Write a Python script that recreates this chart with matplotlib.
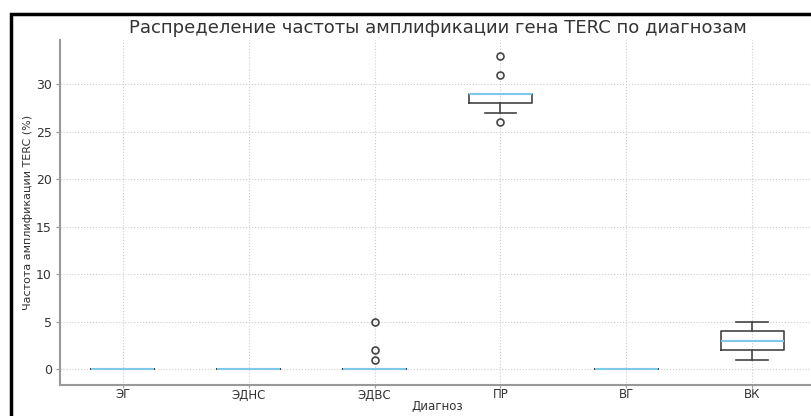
import matplotlib.pyplot as plt
from matplotlib.patches import Rectangle

# Частота амплификации TERC (%) по группам диагнозов
diagnoses = ["ЭГ", "ЭДНС", "ЭДВС", "ПР", "ВГ", "ВК"]
eg = [0, 0, 0, 0, 0, 0, 0, 0, 0, 0]
edns = [0, 0, 0, 0, 0, 0, 0, 0, 0, 0]
edvs = [0, 0, 0, 0, 0, 0, 0, 0, 0, 0, 1, 2, 5]
pr = [26, 27, 28, 28, 29, 29, 29, 29, 31, 33]
vg = [0, 0, 0, 0, 0, 0, 0, 0, 0, 0]
vk = [1, 2, 3, 4, 5]

data = [eg, edns, edvs, pr, vg, vk]

plt.rcParams["font.family"] = ["DejaVu Sans"]

fig = plt.figure(figsize=(8.12, 4.16), dpi=100)
ax = fig.add_axes([60 / 812, 31 / 416, 755 / 812, 345 / 416])

box_col = "#444444"
ax.boxplot(
    data,
    tick_labels=diagnoses,
    boxprops=dict(color=box_col, linewidth=1.2),
    whiskerprops=dict(color=box_col, linewidth=1.2),
    capprops=dict(color=box_col, linewidth=1.2),
    medianprops=dict(color="#7ec8ec", linewidth=1.5),
    flierprops=dict(marker="o", markerfacecolor="none", markeredgecolor=box_col,
                    markersize=5, markeredgewidth=1.2),
)

ax.set_yticks(range(0, 31, 5))
ax.grid(True, linestyle=":", color="#cccccc", linewidth=0.8)
ax.set_axisbelow(True)
for side in ("top", "right"):
    ax.spines[side].set_visible(False)
for side in ("left", "bottom"):
    ax.spines[side].set_color("#999999")
    ax.spines[side].set_linewidth(1.5)
ax.tick_params(axis="x", colors="#999999", labelcolor="#333333", labelsize=8.5,
               length=2, pad=0.5)
ax.tick_params(axis="y", colors="#999999", labelcolor="#333333", labelsize=9,
               length=3, pad=3)

ax.set_title("Распределение частоты амплификации гена TERC по диагнозам",
             fontsize=13, color="#333333", pad=5)
ax.set_xlabel("Диагноз", fontsize=8.5, color="#333333", labelpad=-1)
ax.set_ylabel("Частота амплификации TERC (%)", fontsize=8, color="#333333", labelpad=2)

# черная рамка вокруг изображения
fig.patches.append(Rectangle((11 / 812, -0.1), 1.2, (416 - 14) / 416 + 0.1,
                             transform=fig.transFigure, fill=False,
                             edgecolor="black", linewidth=2.5, clip_on=False))

fig.savefig("out.png", dpi=100)
